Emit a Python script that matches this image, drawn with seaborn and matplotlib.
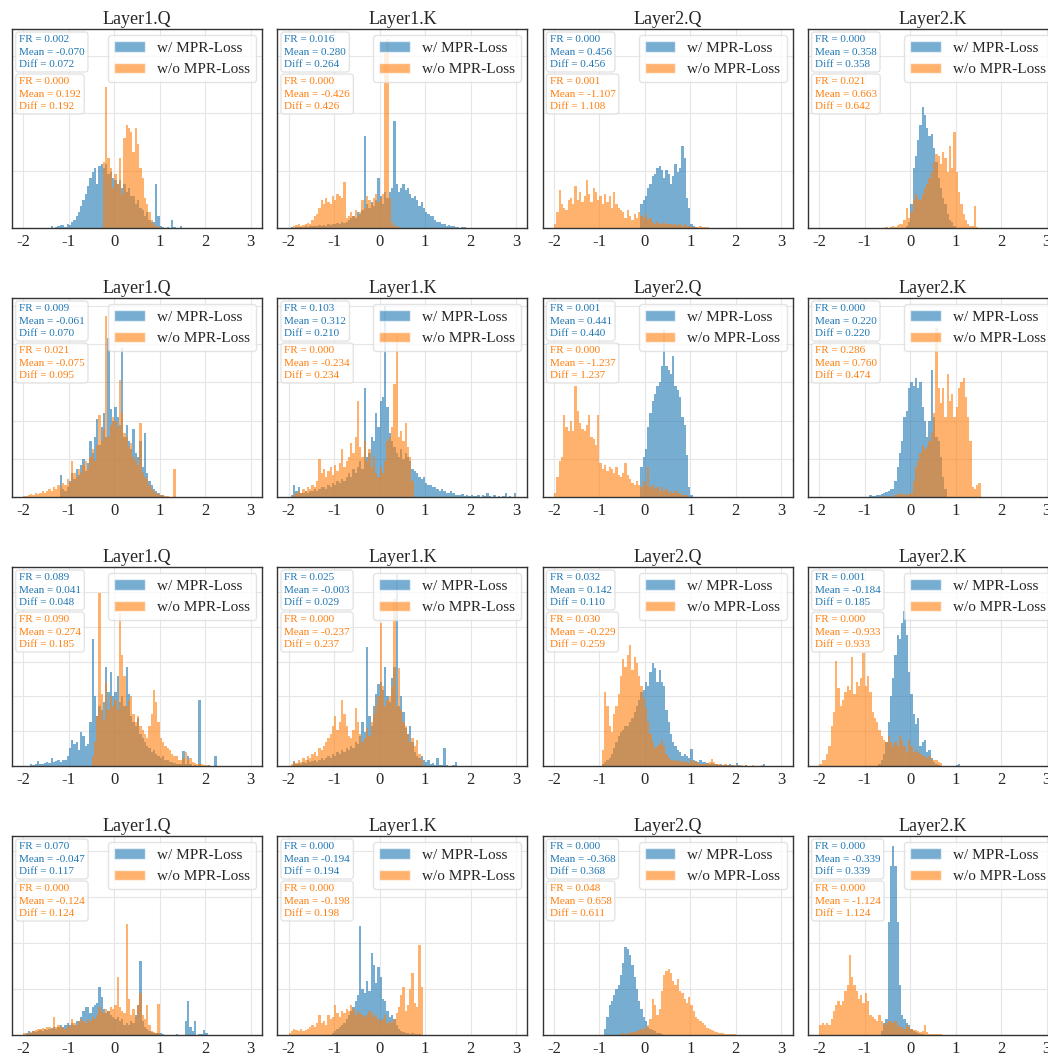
import numpy as np
import matplotlib
matplotlib.use('Agg')
import matplotlib.pyplot as plt
from matplotlib.patches import Patch
import seaborn as sns

# panel titles (repeated in every row); histogram bins are 0.05 wide on [-2, 3]
titles = ['Layer1.Q', 'Layer1.K', 'Layer2.Q', 'Layer2.K']
bin_width = 0.05
bin_range = (-2, 3)

# bar heights, in % of the panel height
# each series: (left edge of first bin, heights of consecutive 0.05 bins)
r1_l1q_w = (-1.40, [1, 0, 0.5, 1, 1.5, 1.5, 0.5, 2, 1.5, 3, 4, 6, 8, 11, 14, 17, 21, 25, 28, 30,
                    22, 31, 32, 30, 32, 27, 28, 25, 24, 22, 24, 20, 22, 18, 20, 16, 16, 12, 14, 10,
                    9, 6, 8, 4, 3, 3, 22, 6, 1, 0.5, 0, 0.5, 0, 4, 0.5, 0, 0, 1])
r1_l1q_wo = (-0.25, [33, 71, 35, 30, 20, 27, 22, 35, 17, 45, 52, 50, 48, 38, 50, 42, 30, 25, 15, 12,
                     8, 4, 2, 1, 0.5])
r1_l1k_w = (-1.95, [0.5, 0, 0.5, 0.5, 0.5, 0.5, 1, 0.5, 1, 1, 1, 1, 1.5, 1, 1.5, 1, 2, 1.5, 2, 2,
                    2.5, 2, 3, 2.5, 3, 4, 5, 6, 5, 8, 7, 9, 46, 12, 10, 13, 11, 14, 25, 16,
                    12, 18, 15, 18, 20, 54, 22, 18, 20, 22, 19, 20, 17, 15, 16, 14, 11, 13, 10, 8,
                    7, 6, 6, 4, 3, 3, 2, 2, 1, 1.5, 1, 1, 0.5, 0.5, 0, 0.5, 0.5])
r1_l1k_wo = (-1.90, [1, 1.5, 2, 1, 1.5, 2, 2.5, 2, 4, 6, 7, 10, 14, 12, 15, 13, 12, 16, 14, 17,
                     16, 15, 23, 5, 6, 8, 6, 9, 6, 8, 14, 10, 16, 14, 12, 15, 17, 13, 15, 17,
                     88, 95, 15, 3, 1, 1, 0.5])
r1_l2q_w = (-0.10, [12, 14, 16, 20, 22, 26, 27, 30, 31, 29, 25, 29, 27, 22, 26, 32, 28, 30, 41, 35,
                    15, 10, 2, 1, 0.5])
r1_l2q_wo = (-2.00, [2, 8, 19, 12, 10, 9, 14, 15, 12, 21, 14, 18, 13, 16, 24, 17, 13, 20, 18, 14,
                     16, 12, 17, 13, 16, 10, 18, 12, 10, 9, 8, 5, 9, 6, 4, 7, 5, 8, 6, 5,
                     7, 4, 5, 3, 2, 3, 2, 2, 3, 2, 2, 2, 1.5, 2, 1.5, 2, 1, 2, 1, 1,
                     0.5, 0.5, 0.5, 0.5, 1, 0.5, 0.5, 0.5])
r1_l2k_w = (-0.10, [1, 3, 12, 30, 36, 44, 52, 61, 57, 50, 46, 47, 40, 33, 25, 20, 15, 12, 7, 4, 3, 1])
r1_l2k_wo = (-0.55, [0.5, 0, 0.5, 1, 0.5, 1.5, 2, 2, 4, 10, 5, 8, 14, 17, 15, 14, 17, 20, 22, 25,
                     28, 33, 37, 36, 32, 38, 35, 28, 41, 30, 48, 28, 18, 12, 7, 4, 2, 1, 1, 11, 0.5])

r2_l1q_w = (-1.20, [11, 4, 3, 5, 8, 12, 9, 14, 11, 16, 19, 13, 17, 28, 22, 30, 39, 26, 35, 42,
                    30, 80, 44, 38, 45, 40, 36, 75, 30, 36, 28, 24, 34, 22, 20, 28, 15, 32, 12, 8,
                    6, 4, 3, 2, 1, 1])
r2_l1q_wo = (-2.00, [0.5, 0.5, 1, 1.5, 1, 2, 1.5, 2, 3, 2, 3, 4, 3, 5, 4, 6, 5, 7, 6, 9,
                     7, 18, 12, 10, 14, 12, 16, 18, 14, 20, 24, 18, 26, 41, 28, 34, 91, 30, 36, 40,
                     38, 35, 59, 42, 32, 30, 25, 27, 20, 18, 16, 37, 12, 10, 9, 6, 4, 3, 2, 1.5,
                     1, 1, 0.5, 0.5, 0, 0, 14])
r2_l1k_w = (-1.95, [1, 6, 3, 5, 2, 2, 3, 2, 3, 3, 4, 3, 4, 5, 5, 4, 6, 5, 7, 6,
                    8, 7, 9, 8, 10, 12, 10, 14, 12, 15, 18, 14, 55, 20, 22, 30, 28, 42, 35, 48,
                    50, 96, 45, 32, 28, 25, 22, 20, 24, 19, 22, 20, 18, 14, 13, 12, 10, 9, 10, 7,
                    6, 6, 5, 5, 4, 3, 4, 3, 2, 2, 3, 2, 1, 1, 1, 1.5, 0.5, 1, 0.5, 1,
                    0.5, 0.5, 1, 0, 1, 0.5, 2, 0.5, 0, 1, 0, 0.5, 0, 0.5, 2, 0, 0.5, 0, 2])
r2_l1k_wo = (-1.90, [1, 2, 3, 2, 4, 3, 5, 4, 6, 5, 8, 19, 12, 14, 10, 13, 15, 11, 16, 13,
                     17, 24, 15, 18, 20, 27, 22, 30, 48, 25, 20, 28, 18, 24, 15, 20, 12, 10, 15, 12,
                     18, 28, 30, 35, 57, 82, 30, 33, 28, 37, 25, 20, 8])
r2_l2q_w = (-0.10, [15, 20, 24, 35, 42, 48, 52, 56, 58, 66, 84, 66, 64, 62, 71, 56, 54, 50, 40, 36,
                    21, 5, 1])
r2_l2q_wo = (-2.00, [2, 10, 18, 20, 41, 35, 33, 38, 33, 56, 43, 37, 34, 33, 36, 41, 30, 29, 26, 41,
                     17, 14, 16, 13, 15, 14, 12, 15, 11, 10, 12, 17, 11, 9, 7, 6, 8, 6, 5, 8,
                     6, 15, 5, 6, 4, 5, 3, 5, 3, 4, 2, 3, 2, 3, 2, 2, 1, 1, 1])
r2_l2k_w = (-0.90, [1, 0.5, 0.5, 1, 1, 1.5, 2, 2.5, 3, 4, 4, 8, 15, 22, 28, 40, 43, 55, 58, 56,
                    60, 55, 58, 45, 38, 30, 38, 64, 40, 30, 28, 20, 10, 4])
r2_l2k_wo = (-0.65, [0.5, 0, 0.5, 0, 0.5, 0, 1, 1.5, 2, 1, 1.5, 1, 1.5, 2, 8, 15, 18, 22, 26, 24,
                     25, 28, 32, 42, 85, 55, 47, 55, 40, 62, 48, 52, 40, 45, 55, 58, 60, 50, 40, 28,
                     5, 4, 6, 7])

r3_l1q_w = (-1.85, [1, 0.5, 1, 2.5, 1, 1, 1.5, 2, 1.5, 4, 2, 2.5, 3, 2, 3, 3, 5, 9, 13, 11,
                    12, 8, 17, 15, 10, 11, 22, 64, 35, 25, 30, 28, 32, 50, 37, 47, 35, 37, 45, 32,
                    35, 30, 50, 36, 25, 22, 20, 24, 16, 14, 12, 10, 9, 7, 8, 6, 5, 4, 5, 3,
                    3, 2, 2, 1.5, 1, 1, 1, 7.5, 1, 5, 1, 0, 0.5, 0, 33, 0, 0, 0, 0.5, 0,
                    0, 5])
r3_l1q_wo = (-0.50, [5, 12, 25, 87, 36, 23, 42, 28, 35, 30, 33, 28, 77, 56, 45, 30, 33, 35, 26, 22,
                     25, 20, 18, 16, 14, 20, 26, 38, 32, 22, 14, 12, 10, 9, 8, 6, 5, 5, 3, 3,
                     4, 7, 3, 4, 2, 1.5, 1, 1, 1, 0.5, 0.5, 0.5])
r3_l1k_w = (-1.90, [2.5, 1, 1.5, 1, 2, 1.5, 3, 2, 2.5, 3, 2, 3, 4, 3, 4, 5, 4, 6, 5, 7,
                    6, 8, 7, 9, 8, 10, 9, 12, 11, 15, 22, 17, 60, 25, 20, 30, 36, 41, 42, 38,
                    50, 35, 32, 44, 50, 96, 30, 35, 27, 19, 16, 20, 12, 7, 5, 4, 5, 3, 2, 3,
                    1, 1.5, 0.5, 4, 0.5, 0.5, 9, 0.5, 0, 0, 0.5, 2])
r3_l1k_wo = (-1.95, [1, 2, 1.5, 3, 2, 4, 3, 5, 4, 6, 7, 5, 9, 8, 10, 12, 14, 16, 20, 25,
                     18, 22, 33, 26, 20, 15, 14, 18, 29, 22, 16, 12, 14, 19, 15, 22, 26, 30, 35, 72,
                     40, 30, 33, 35, 40, 84, 30, 49, 28, 22, 20, 16, 12, 14, 10, 13, 6, 3])
r3_l2q_w = (-0.95, [1, 2, 3, 4, 6, 9, 12, 15, 17, 18, 20, 20, 22, 24, 27, 30, 33, 37, 38, 42,
                    40, 47, 52, 49, 42, 48, 42, 40, 28, 22, 16, 12, 10, 8, 7, 5, 6, 5, 4, 8.5,
                    3, 2.5, 2, 3, 2, 2, 1.5, 1, 1.5, 1, 1, 0.5, 1, 0.5, 0.5, 0.5, 1, 0.5, 0, 1.5,
                    0.5, 0, 0, 0.5, 0, 0, 0, 0, 0, 0, 0, 1])
r3_l2q_wo = (-0.95, [8, 37, 30, 20, 17, 26, 30, 36, 45, 54, 50, 56, 61, 48, 55, 52, 45, 40, 34, 29,
                     22, 16, 12, 9, 10, 11, 13, 10, 6, 4, 3, 3, 2.5, 3, 2, 2.5, 2, 2, 1.5, 3,
                     2, 2.5, 1.5, 1, 1, 1, 1.5, 2, 3.5, 2, 1, 1, 0.5, 0.5, 1, 0.5, 0.5, 0, 0.5, 0.5,
                     0, 0.5, 0, 0.5, 0, 0, 0.5, 0, 0, 0, 0.5])
r3_l2k_w = (-0.70, [1, 3, 6, 12, 22, 35, 44, 56, 66, 64, 72, 78, 66, 47, 36, 26, 21, 24, 10, 12,
                    13, 7, 8, 4, 2, 1, 0.5, 0, 0, 0, 0, 0, 0, 0, 0.5, 1])
r3_l2k_wo = (-2.00, [1, 3, 3, 6, 10, 20, 27, 53, 39, 30, 33, 37, 40, 38, 55, 36, 42, 40, 44, 57,
                     40, 45, 37, 27, 24, 22, 18, 15, 13, 12, 15, 12, 10, 12, 10, 15, 13, 10, 7, 13,
                     10, 7, 8, 7, 6, 5, 5, 4, 5, 3, 3, 3, 2, 1.5])

r4_l1q_w = (-1.95, [1, 2, 1, 2, 1.5, 2, 2.5, 2, 3, 2.5, 3, 3.5, 4, 3, 4, 5, 4, 5, 6, 5,
                    6, 5, 7, 7, 9, 12, 14, 14, 11, 14, 15, 16, 24, 19, 13, 11, 12, 10, 9, 8,
                    9, 7, 8, 5, 6, 5, 7, 6, 10, 15, 37, 7, 4, 3, 2, 1.5, 1, 1, 1, 1,
                    0.5, 0, 0, 0, 0, 0, 0.5, 0, 0, 0, 7, 17, 4, 2, 7, 0, 0.5, 0.5, 2.5, 1])
r4_l1q_wo = (-2.00, [1, 0.5, 1, 1.5, 2, 2.5, 3, 3, 3.5, 3, 4, 4, 3, 9, 4, 5, 4, 4, 3, 5,
                     4, 8, 6, 5, 7, 8, 7, 6, 8, 7, 9, 8, 10, 14, 12, 11, 13, 12, 14, 13,
                     15, 29, 14, 12, 11, 56, 18, 10, 13, 9, 15, 21, 10, 8, 15, 5, 2, 1.5, 1, 15.5])
r4_l1k_w = (-1.05, [1, 2, 3, 4, 5, 6, 8, 10, 12, 14, 17, 20, 55, 23, 21, 27, 22, 41, 35, 26,
                    34, 29, 18, 17, 12, 9, 10, 8, 5, 3, 2, 1.5, 1, 1, 0.5, 1, 0.5, 0.5, 0.5])
r4_l1k_wo = (-2.00, [1, 2, 3, 2.5, 2, 3, 2, 2.5, 3, 4, 5, 4, 6, 10, 6, 7, 5, 10, 8, 9,
                     15, 11, 9, 12, 11, 13, 12, 15, 13, 10, 12, 11, 10, 9, 10, 12, 11, 9, 10, 8,
                     7, 8, 10, 6, 7, 6, 8, 11, 14, 20, 24, 12, 15, 23, 31, 16, 14, 45, 24])
r4_l2q_w = (-0.90, [3, 9, 15, 17, 20, 23, 25, 30, 36, 44, 43, 40, 35, 29, 23, 17, 13, 9, 7, 4,
                    3, 2.5, 2, 1, 1, 0.5])
r4_l2q_wo = (-0.55, [0.5, 1, 0.5, 1, 1, 1.5, 1.5, 2, 2.5, 3, 3, 4, 5, 8, 18, 15, 10, 13, 22, 30,
                     32, 33, 31, 27, 25, 28, 22, 21, 18, 16, 19, 15, 12, 9, 8, 7, 6, 5, 3.5, 3,
                     2.5, 2, 1.5, 1, 1, 1, 0.5, 0.5, 0.5, 0.5, 0.5])
r4_l2k_w = (-0.65, [2, 6, 8, 57, 85, 95, 85, 57, 25, 10, 8, 6, 5, 3, 2, 1.5, 1, 0.5, 0.5])
r4_l2k_wo = (-2.00, [5, 6, 5, 6, 5, 8, 12, 15, 17, 15, 17, 22, 25, 40, 29, 25, 22, 18, 20, 16,
                     21, 17, 10, 9, 8, 7, 10, 7, 5, 6, 7, 7, 6, 7, 5, 4, 4, 3, 5, 4,
                     3, 2.5, 2.5, 2, 1.5, 2, 5, 1.5, 0.5, 0.5, 0.5, 0.5, 0.5, 0.5])

hist_w = [r1_l1q_w, r1_l1k_w, r1_l2q_w, r1_l2k_w, r2_l1q_w, r2_l1k_w, r2_l2q_w, r2_l2k_w,
          r3_l1q_w, r3_l1k_w, r3_l2q_w, r3_l2k_w, r4_l1q_w, r4_l1k_w, r4_l2q_w, r4_l2k_w]
hist_wo = [r1_l1q_wo, r1_l1k_wo, r1_l2q_wo, r1_l2k_wo, r2_l1q_wo, r2_l1k_wo, r2_l2q_wo, r2_l2k_wo,
           r3_l1q_wo, r3_l1k_wo, r3_l2q_wo, r3_l2k_wo, r4_l1q_wo, r4_l1k_wo, r4_l2q_wo, r4_l2k_wo]

# statistics printed in the boxes
fr_w = [0.002, 0.016, 0.000, 0.000, 0.009, 0.103, 0.001, 0.000,
        0.089, 0.025, 0.032, 0.001, 0.070, 0.000, 0.000, 0.000]
mean_w = [-0.070, 0.280, 0.456, 0.358, -0.061, 0.312, 0.441, 0.220,
          0.041, -0.003, 0.142, -0.184, -0.047, -0.194, -0.368, -0.339]
diff_w = [0.072, 0.264, 0.456, 0.358, 0.070, 0.210, 0.440, 0.220,
          0.048, 0.029, 0.110, 0.185, 0.117, 0.194, 0.368, 0.339]
fr_wo = [0.000, 0.000, 0.001, 0.021, 0.021, 0.000, 0.000, 0.286,
         0.090, 0.000, 0.030, 0.000, 0.000, 0.000, 0.048, 0.000]
mean_wo = [0.192, -0.426, -1.107, 0.663, -0.075, -0.234, -1.237, 0.760,
           0.274, -0.237, -0.229, -0.933, -0.124, -0.198, 0.658, -1.124]
diff_wo = [0.192, 0.426, 1.108, 0.642, 0.095, 0.234, 1.237, 0.474,
           0.185, 0.237, 0.259, 0.933, 0.124, 0.198, 0.611, 1.124]

# horizontal grid spacing per row (% of panel height)
grid_step = [28.8, 19.2, 17.5, 23.1]

sns.set_style('white')
plt.rcParams['font.family'] = ['Liberation Serif', 'DejaVu Serif']
plt.rcParams['axes.unicode_minus'] = False

blue, orange = '#1f77b4', '#ff7f0e'
fig, axes = plt.subplots(4, 4, figsize=(10.48, 10.55), dpi=100)
fig.subplots_adjust(left=12 / 1048, right=1058 / 1048, top=1 - 29 / 1055,
                    bottom=1 - 1035 / 1055, wspace=0.061, hspace=0.352)

for k, ax in enumerate(axes.flat):
    row = k // 4
    for (x0, h), col in [(hist_w[k], blue), (hist_wo[k], orange)]:
        centers = x0 + bin_width / 2 + bin_width * np.arange(len(h))
        sns.histplot(x=list(centers), weights=list(h), binwidth=bin_width, binrange=bin_range,
                     color=col, alpha=0.6, linewidth=0, ax=ax)

    ax.set_xlim(-2.25, 3.25)
    ax.set_ylim(0, 100)
    ax.set_xticks([-2, -1, 0, 1, 2, 3])
    ax.set_yticks(np.arange(grid_step[row], 100, grid_step[row]))
    ax.tick_params(axis='y', left=False, labelleft=False)
    ax.tick_params(axis='x', labelsize=12, pad=1)
    ax.set_xlabel('')
    ax.set_ylabel('')
    ax.grid(True, color='#e6e6e6', linewidth=0.8)
    ax.set_axisbelow(True)
    for sp in ax.spines.values():
        sp.set_color('#333333')
        sp.set_linewidth(1.0)
    ax.set_title(titles[k % 4], fontsize=13, pad=3.5)

    ax.legend(handles=[Patch(facecolor=blue, alpha=0.6, label='w/ MPR-Loss'),
                       Patch(facecolor=orange, alpha=0.6, label='w/o MPR-Loss')],
              loc='upper right', fontsize=11, framealpha=0.8, edgecolor='#dddddd',
              borderaxespad=0.4)

    box = dict(boxstyle='round,pad=0.3', facecolor='white', edgecolor='#dddddd', alpha=0.8)
    ax.text(0.028, 0.968,
            f'FR = {fr_w[k]:.3f}\nMean = {mean_w[k]:.3f}\nDiff = {diff_w[k]:.3f}',
            transform=ax.transAxes, ha='left', va='top', fontsize=8, color=blue,
            linespacing=1.45, bbox=box)
    ax.text(0.028, 0.757,
            f'FR = {fr_wo[k]:.3f}\nMean = {mean_wo[k]:.3f}\nDiff = {diff_wo[k]:.3f}',
            transform=ax.transAxes, ha='left', va='top', fontsize=8, color=orange,
            linespacing=1.45, bbox=box)

fig.savefig('out.png', dpi=100)
